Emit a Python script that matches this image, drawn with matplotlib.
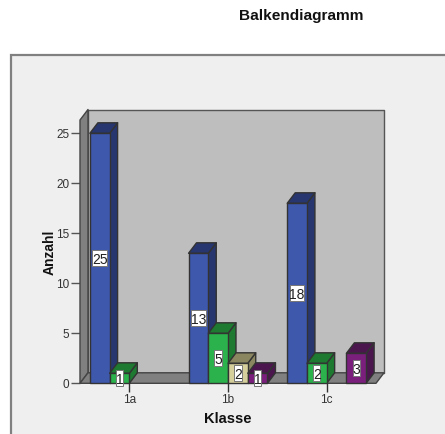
import numpy as np
import matplotlib
matplotlib.use("Agg")
import matplotlib.pyplot as plt
from matplotlib.patches import Polygon, Rectangle

plt.rcParams['font.family'] = ['Liberation Sans', 'DejaVu Sans']

klassen = ['1a', '1b', '1c']
serie_blau = [25, 13, 18]
serie_gruen = [1, 5, 2]
serie_beige = [0, 2, 0]
serie_lila = [0, 1, 3]
yticks = [0, 5, 10, 15, 20, 25]

W, H = 445, 434
fig = plt.figure(figsize=(W/100, H/100), dpi=100, facecolor='white')

# panel runs off the right and bottom edge of the image
fig.add_artist(Rectangle((11/W, -0.05), 0.99, 1-55/H+0.05, transform=fig.transFigure,
                         facecolor='#efefef', edgecolor='#808080', linewidth=1.6, zorder=-1))

ax = fig.add_axes([80/W, 1-383.3/H, 296/W, 263.3/H])
ax.set_xlim(-0.5, 2.5)
ax.set_ylim(0, 26.33)
ax.patch.set_visible(False)
for s in ax.spines.values():
    s.set_visible(False)

dx = 0.081
dy = 1.05
ytop = 26.33
edge = '#333333'


def poly(pts, fc, z=2, ec=edge, lw=1.0):
    ax.add_patch(Polygon(pts, closed=True, facecolor=fc, edgecolor=ec, linewidth=lw,
                         clip_on=False, zorder=z, joinstyle='round'))


# walls and floor
poly([(-0.5+dx, dy), (2.5+dx, dy), (2.5+dx, ytop+dy), (-0.5+dx, ytop+dy)], '#bebebe', ec='#555555')
poly([(-0.5, 0), (-0.5+dx, dy), (-0.5+dx, ytop+dy), (-0.5, ytop)], '#808080', ec='#444444')
poly([(-0.5, 0), (2.5, 0), (2.5+dx, dy), (-0.5+dx, dy)], '#808080', ec='#444444')

serien = [serie_blau, serie_gruen, serie_beige, serie_lila]
front = ['#3e58ac', '#2bb24c', '#d5cf9c', '#7b1f7d']
seite = ['#27366f', '#1d7a30', '#8a8660', '#4a164d']
w = 0.2

for g in range(len(klassen)):
    for i, serie in enumerate(serien):
        v = serie[g]
        if v == 0:
            continue
        x0 = g + (i-2)*w
        x1 = x0 + w
        poly([(x1, 0), (x1+dx, dy), (x1+dx, v+dy), (x1, v)], seite[i], z=3)
        poly([(x0, v), (x1, v), (x1+dx, v+dy), (x0+dx, v+dy)], seite[i], z=3)
        poly([(x0, 0), (x1, 0), (x1, v), (x0, v)], front[i], z=3)

# value labels: tall narrow white boxes
box_h = 1.6
for g in range(len(klassen)):
    for i, serie in enumerate(serien):
        v = serie[g]
        if v == 0:
            continue
        xm = g + (i-2)*w + w/2
        box_w = 0.15 if v >= 10 else 0.075
        ax.add_patch(Rectangle((xm-box_w/2, v/2-box_h/2), box_w, box_h, facecolor='white',
                               edgecolor='#777777', linewidth=0.7, zorder=5, clip_on=False))
        ax.text(xm, v/2, str(v), ha='center', va='center_baseline', fontsize=10,
                color='#222222', zorder=6, clip_on=False)

ax.set_xticks(range(len(klassen)))
ax.set_xticklabels(klassen, fontsize=8.5, color='#333333')
ax.set_yticks(yticks)
ax.set_yticklabels([str(t) for t in yticks], fontsize=8.5, color='#333333')
ax.tick_params(axis='x', length=6.5, width=1.0, color='#333333', pad=1.5)
ax.tick_params(axis='y', length=6.5, width=1.0, color='#555555', pad=1)
for t in ax.get_xticklines():
    t.set_zorder(4)

fig.text(301/W, 1-16/H, 'Balkendiagramm', ha='center', va='center', fontsize=11.1, fontweight='bold', color='#111111')
fig.text(228/W, 1-419/H, 'Klasse', ha='center', va='center', fontsize=10.5, fontweight='bold', color='#111111')
fig.text(49.5/W, 1-252/H, 'Anzahl', ha='center', va='center', rotation=90, fontsize=10, fontweight='bold', color='#111111')

fig.savefig('out.png', dpi=100)
